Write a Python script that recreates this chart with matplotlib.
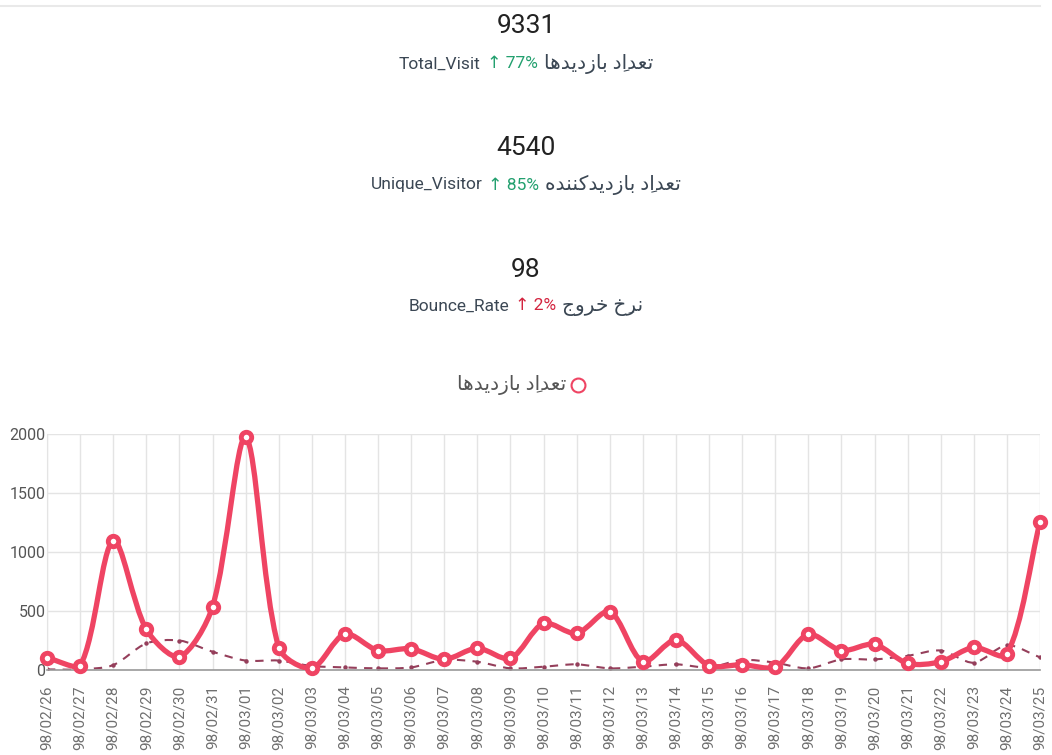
import numpy as np
import matplotlib
matplotlib.use("Agg")
import matplotlib.pyplot as plt
from matplotlib.path import Path
from matplotlib.patches import PathPatch
from matplotlib.lines import Line2D

FAM = ["Roboto", "DejaVu Sans"]
plt.rcParams["font.family"] = FAM

# dates (Jalali) on the x axis
days = ["98/02/26", "98/02/27", "98/02/28", "98/02/29", "98/02/30", "98/02/31",
        "98/03/01", "98/03/02", "98/03/03", "98/03/04", "98/03/05", "98/03/06",
        "98/03/07", "98/03/08", "98/03/09", "98/03/10", "98/03/11", "98/03/12",
        "98/03/13", "98/03/14", "98/03/15", "98/03/16", "98/03/17", "98/03/18",
        "98/03/19", "98/03/20", "98/03/21", "98/03/22", "98/03/23", "98/03/24",
        "98/03/25"]

# daily visits (solid line)
visits = [105, 35, 1095, 345, 112, 535, 1975, 190, 15, 305, 165, 180,
          90, 185, 98, 395, 310, 495, 72, 255, 38, 45, 22, 302,
          165, 218, 56, 70, 192, 133, 1255]

# secondary series (dashed line)
trend = [5, 5, 42, 225, 250, 155, 80, 80, 34, 22, 14, 22,
         85, 70, 14, 28, 48, 14, 28, 48, 22, 85, 62, 14,
         90, 90, 120, 165, 62, 210, 107]

# summary cards
totals = ["9331", "4540", "98"]
metric_names = ["Total_Visit", "Unique_Visitor", "Bounce_Rate"]
changes = ["77%", "85%", "2%"]
# persian labels, already shaped and in visual order
fa_labels = [
    "\uFE8E\uFEEB\uFEAA\uFEF3\uFEA9\uFEAF\uFE8E\uFE91 \uFEA9\u0650\uFE8D\uFEAA\uFECC\uFE97",
    "\uFEE9\uFEAA\uFEE8\uFEE8\uFB90\uFEAA\uFEF3\uFEA9\uFEAF\uFE8E\uFE91 \uFEA9\u0650\uFE8D\uFEAA\uFECC\uFE97",
    "\uFE9D\uFEED\uFEAE\uFEA7 \uFEA5\u0650\uFEAE\uFEE7",
]
change_colors = ["#23a06f", "#23a06f", "#d3243f"]

RED = "#ef4463"
DASH = "#953f5b"
TXT = "#3b4754"
W, H = 1052, 755

fig = plt.figure(figsize=(W / 100, H / 100), dpi=100)
fig.add_artist(Line2D([0, 1040 / W], [1 - 6 / H] * 2, color="#e9e9e9", lw=1.5))

renderer = fig.canvas.get_renderer()


def centered_line(y, parts, gap=6):
    texts = [fig.text(0, y, s, color=c, fontsize=fs, va="center", ha="left")
             for s, c, fs in parts]
    widths = [t.get_window_extent(renderer).width for t in texts]
    x = W / 2 - (sum(widths) + gap * (len(widths) - 1)) / 2
    for t, w in zip(texts, widths):
        t.set_x(x / W)
        x += w + gap


for i in range(3):
    yt = 1 - (26 + 122 * i) / H
    fig.text(0.5, yt, totals[i], ha="center", va="center", fontsize=19, color="#222222")
    centered_line(1 - (64 + 121 * i) / H,
                  [(metric_names[i], TXT, 12.5),
                   ("\u2191 " + changes[i], change_colors[i], 12.5),
                   (fa_labels[i], TXT, 14.5)])

# legend
fig.text(566 / W, 1 - 385 / H, fa_labels[0], ha="right", va="center",
         fontsize=14.5, color="#555555")
fig.add_artist(Line2D([578 / W], [1 - 385 / H], marker="o", ms=10, mfc="none",
                      mec=RED, mew=1.5))

ax = fig.add_axes([47 / W, 85 / H, 993 / W, 236 / H])
n = len(days)
x = np.arange(n)
ax.set_xlim(0, n - 1)
ax.set_ylim(0, 2000)

bbox = ax.get_window_extent(renderer)
sx = bbox.width / (n - 1)
sy = bbox.height / 2000


def spline(xs, ys, tension=0.3, lo=0, hi=2000):
    # bezier through the points with the chart.js control-point rule
    p = np.column_stack([np.asarray(xs, float) * sx, np.asarray(ys, float) * sy])
    m = len(p)
    cin, cout = np.zeros_like(p), np.zeros_like(p)
    for i in range(m):
        prev = p[i - 1] if i > 0 else p[i]
        nxt = p[i + 1] if i < m - 1 else p[i]
        d01 = np.hypot(*(p[i] - prev))
        d12 = np.hypot(*(nxt - p[i]))
        tot = d01 + d12
        s01 = d01 / tot if tot else 0
        s12 = d12 / tot if tot else 0
        cin[i] = p[i] - tension * s01 * (nxt - prev)
        cout[i] = p[i] + tension * s12 * (nxt - prev)
    for c in (cin, cout):
        c[:, 1] = np.clip(c[:, 1], lo * sy, hi * sy)
    verts = [p[0]]
    codes = [Path.MOVETO]
    for i in range(m - 1):
        verts += [cout[i], cin[i + 1], p[i + 1]]
        codes += [Path.CURVE4] * 3
    verts = np.array(verts) / [sx, sy]
    return Path(verts, codes)


ax.add_patch(PathPatch(spline(x, trend), fc="none", ec=DASH, lw=1.5,
                       ls=(0, (4, 3.5)), zorder=2))
ax.plot(x, trend, "o", ms=2.2, color=DASH, zorder=2)
ax.add_patch(PathPatch(spline(x, visits), fc="none", ec=RED, lw=3.8,
                       capstyle="round", joinstyle="round", zorder=3))
ax.plot(x, visits, "o", ms=7.5, mfc="white", mec=RED, mew=3.5,
        clip_on=False, zorder=4)

ax.set_yticks([0, 500, 1000, 1500, 2000])
ax.set_xticks(x)
ax.set_xticklabels(days, rotation=90, va="top", ha="center")
ax.tick_params(axis="y", length=0, pad=1, labelsize=11.5, labelcolor="#555555")
ax.tick_params(axis="x", length=0, pad=11, labelsize=11, labelcolor="#6f6f6f")
ax.grid(True, color="#e4e4e4", lw=1)
ax.set_axisbelow(True)
for s in ["top", "right"]:
    ax.spines[s].set_visible(False)
ax.spines["left"].set_color("#e4e4e4")
ax.spines["bottom"].set_color("#999999")
ax.spines["bottom"].set_linewidth(1.2)

fig.savefig("out.png", dpi=100)
